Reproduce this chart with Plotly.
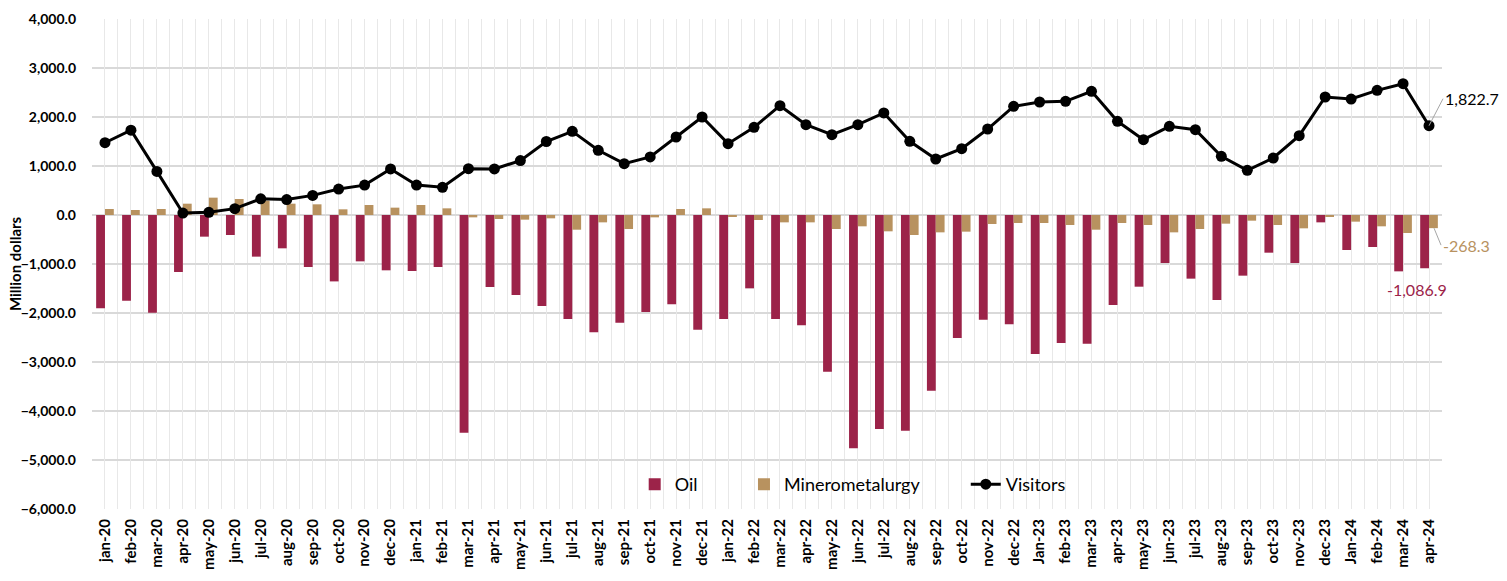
import plotly.graph_objects as go

months = ["jan-20","feb-20","mar-20","apr-20","may-20","jun-20","jul-20","aug-20","sep-20","oct-20","nov-20","dec-20",
          "jan-21","feb-21","mar-21","apr-21","may-21","jun-21","jul-21","aug-21","sep-21","oct-21","nov-21","dec-21",
          "jan-22","feb-22","mar-22","apr-22","may-22","jun-22","jul-22","aug-22","sep-22","oct-22","nov-22","dec-22",
          "Jan-23","feb-23","mar-23","apr-23","may-23","jun-23","jul-23","aug-23","sep-23","oct-23","nov-23","dec-23",
          "Jan-24","feb-24","mar-24","apr-24"]

oil = [-1905, -1748, -1993, -1163, -442, -408, -850, -680, -1061, -1355, -946, -1129,
       -1143, -1061, -4442, -1470, -1633, -1857, -2122, -2395, -2197, -1980, -1823, -2340,
       -2122, -1497, -2122, -2252, -3197, -4762, -4367, -4401, -3585, -2510, -2136, -2231,
       -2837, -2612, -2626, -1837, -1463, -980, -1299, -1735, -1238, -769, -980, -150,
       -714, -653, -1150, -1086.9]

minero = [122, 102, 122, 231, 354, 327, 293, 231, 218, 116, 204, 150,
          204, 136, -48, -82, -95, -68, -300, -150, -286, -48, 122, 136,
          -27, -102, -150, -150, -286, -231, -333, -408, -354, -340, -184, -163,
          -163, -204, -300, -163, -204, -354, -286, -177, -116, -204, -272, -27,
          -136, -231, -367, -268.3]

visitors = [1475, 1730, 890, 40, 55, 130, 330, 315, 400, 530, 610, 940,
            610, 565, 945, 940, 1110, 1500, 1707, 1320, 1048, 1184, 1592, 2000,
            1456, 1790, 2231, 1843, 1640, 1843, 2082, 1503, 1143, 1354, 1755, 2218,
            2306, 2320, 2524, 1912, 1537, 1810, 1741, 1197, 912, 1163, 1619, 2408,
            2367, 2544, 2680, 1822.7]

series_names = ["Oil", "Minerometalurgy", "Visitors"]
y_title = "Million dollars"

OIL_C = "#9C2349"
MIN_C = "#B8925F"
GRID_C = "#E8E8E8"
FONT = "Lato, Open Sans, sans-serif"
NB = "\u00a0"

fig = go.Figure()
fig.add_trace(go.Bar(x=months, y=oil, name=series_names[0] + NB * 9, marker_color=OIL_C, marker_line_width=0))
fig.add_trace(go.Bar(x=months, y=minero, name=series_names[1] + NB * 9, marker_color=MIN_C, marker_line_width=0))
fig.add_trace(go.Scatter(x=months, y=visitors, name=series_names[2], mode="lines+markers",
                         line=dict(color="black", width=3),
                         marker=dict(color="black", size=11, symbol="circle"),
                         xaxis="x2"))

def fmt(v):
    return f"{v:,.1f}"

fig.add_annotation(x=months[-1], y=visitors[-1], xref="x2", yref="y", text=fmt(visitors[-1]),
                   showarrow=True, arrowhead=0, arrowwidth=1, arrowcolor="#A6A6A6",
                   ax=14, ay=-27, xanchor="left", yanchor="middle",
                   font=dict(family=FONT, size=16, color="black"))
fig.add_annotation(x=months[-1], y=minero[-1], xref="x", yref="y", text=fmt(minero[-1]),
                   showarrow=True, arrowhead=0, arrowwidth=1, arrowcolor="#A6A6A6",
                   ax=7, ay=17, xanchor="left", yanchor="middle", xshift=5,
                   font=dict(family=FONT, size=16, color=MIN_C))
fig.add_annotation(x=months[-1], y=oil[-1], xref="x", yref="y", text=fmt(oil[-1]),
                   showarrow=False, xanchor="center", yanchor="top", yshift=-10, xshift=-12,
                   font=dict(family=FONT, size=16, color=OIL_C))
# y-axis title
fig.add_annotation(x=-0.057, y=0.5, xref="paper", yref="paper", text=y_title, textangle=-90,
                   showarrow=False, xanchor="center", yanchor="middle",
                   font=dict(family=FONT, size=15, color="black", weight="bold"))

fig.update_layout(
    width=1507, height=581,
    margin=dict(l=92, r=65, t=19, b=72, autoexpand=False),
    paper_bgcolor="white", plot_bgcolor="white",
    barmode="group", bargap=0.32, bargroupgap=0,
    font=dict(family=FONT, size=13, color="black"),
    showlegend=True,
    legend=dict(orientation="h", x=0.402, y=0.05, xanchor="left", yanchor="middle",
                bgcolor="rgba(0,0,0,0)", font=dict(family=FONT, size=18, color="black"),
                itemwidth=30, tracegroupgap=0),
    xaxis=dict(type="category", categoryorder="array", categoryarray=months,
               tickson="boundaries", showgrid=True, gridcolor=GRID_C, gridwidth=1,
               tickangle=-90, ticks="", showline=False, automargin=False,
               ticklabelstandoff=6,
               tickfont=dict(family=FONT, size=15, color="black", weight="bold"),
               range=[-0.5, len(months) - 0.5]),
    xaxis2=dict(type="category", categoryorder="array", categoryarray=months,
                overlaying="x", matches="x", showgrid=True, gridcolor=GRID_C, gridwidth=1,
                showticklabels=False, ticks="", showline=False, automargin=False),
    yaxis=dict(range=[-6000, 4000], dtick=1000, tickformat=",.1f",
               showgrid=True, gridcolor="#D9D9D9", gridwidth=1.5,
               zeroline=True, zerolinecolor="#D9D9D9", zerolinewidth=1.5,
               ticks="", ticklabelstandoff=15, automargin=False,
               tickfont=dict(family=FONT, size=14, color="black", weight="bold")),
)

fig.write_html("out.html", config={"displayModeBar": False},
               post_script="document.body.style.margin='0px';")
